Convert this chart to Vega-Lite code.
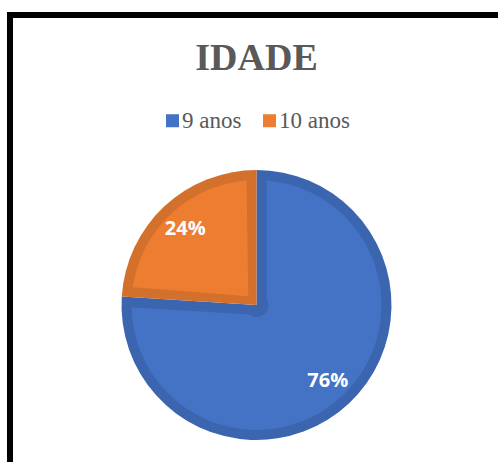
{
  "$schema": "https://vega.github.io/schema/vega-lite/v6.json",
  "width": 493,
  "height": 580,
  "autosize": "none",
  "padding": {"left": 10, "top": 15, "right": -5, "bottom": -133},
  "background": "white",
  "view": {"stroke": "black", "strokeWidth": 6, "fill": "white"},
  "config": {
    "view": {"stroke": "black", "strokeWidth": 6}
  },
  "title": {
    "text": "IDADE",
    "font": "Liberation Serif",
    "fontSize": 38,
    "fontWeight": "bold",
    "color": "#595959",
    "anchor": "middle",
    "frame": "group",
    "offset": -93,
    "baseline": "alphabetic"
  },
  "data": {
    "values": [
      {"idade": "9 anos", "value": 0.76},
      {"idade": "10 anos", "value": 0.24}
    ]
  },
  "layer": [
    {
      "mark": {"type": "arc", "outerRadius": 135},
      "encoding": {
        "theta": {"field": "value", "type": "quantitative", "stack": true},
        "order": {"field": "value", "sort": "descending"},
        "fill": {
          "field": "idade",
          "type": "nominal",
          "sort": ["9 anos", "10 anos"],
          "scale": {"range": ["#3C65B0", "#D2702C"]},
          "legend": null
        }
      }
    },
    {
      "mark": {"type": "arc", "outerRadius": 125, "innerRadius": 12, "padAngle": 0.15944},
      "encoding": {
        "theta": {"field": "value", "type": "quantitative", "stack": true},
        "order": {"field": "value", "sort": "descending"},
        "color": {
          "field": "idade",
          "type": "nominal",
          "scale": {"domain": ["9 anos", "10 anos"], "range": ["#4472C4", "#ED7D31"]},
          "legend": {
            "title": null,
            "orient": "none",
            "legendX": 151,
            "legendY": 94,
            "direction": "horizontal",
            "symbolType": "square",
            "symbolSize": 169,
            "symbolStrokeWidth": 0,
            "labelFont": "Liberation Serif",
            "labelFontSize": 23,
            "labelColor": "#595959",
            "labelOffset": -2,
            "columnPadding": 16,
            "padding": 0
          }
        }
      }
    },
    {
      "mark": {"type": "text", "radius": 104, "color": "white", "font": "Open Sans", "fontWeight": "bold", "fontSize": 20},
      "encoding": {
        "theta": {"field": "value", "type": "quantitative", "stack": true},
        "order": {"field": "value", "sort": "descending"},
        "text": {"field": "value", "type": "quantitative", "format": ".0%"}
      }
    }
  ]
}
